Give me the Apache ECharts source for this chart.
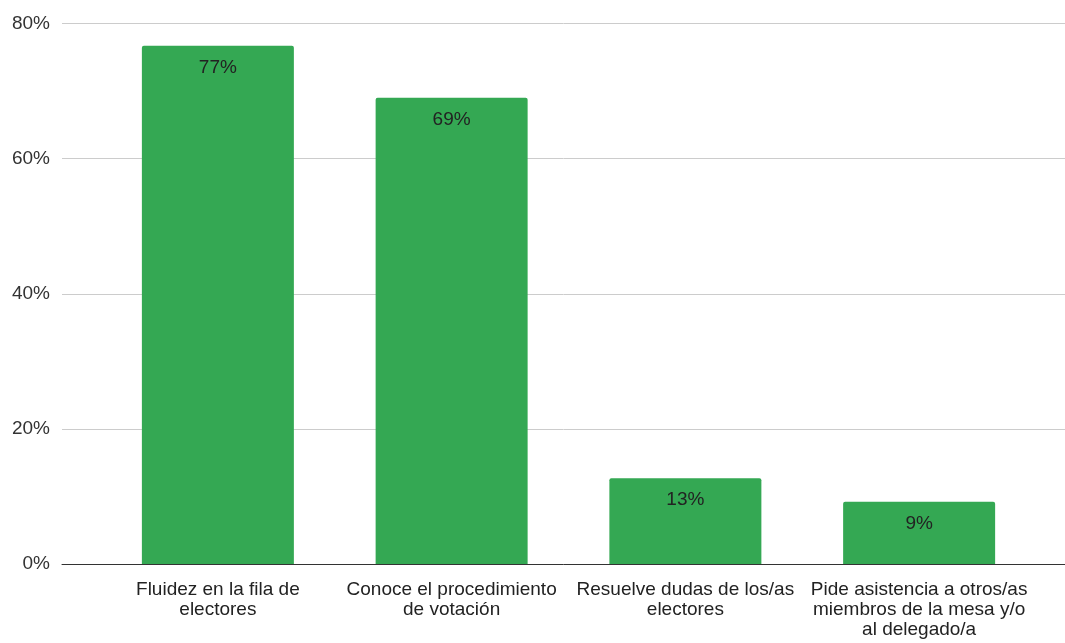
<!DOCTYPE html>
<html>
<head>
<meta charset="utf-8">
<script src="https://cdn.jsdelivr.net/npm/echarts@6/dist/echarts.min.js"></script>
<style>
html,body{margin:0;padding:0;background:#fff;}
#chart{width:1065px;height:643px;}
</style>
</head>
<body>
<div id="chart"></div>
<script>
const categories = [
  'Fluidez en la fila de\nelectores',
  'Conoce el procedimiento\nde votación',
  'Resuelve dudas de los/as\nelectores',
  'Pide asistencia a otros/as\nmiembros de la mesa y/o\nal delegado/a'
];
const values = [76.7, 69.0, 12.7, 9.2];
const yTicks = { min: 0, max: 80, interval: 20 };

const FONT = '"Liberation Sans", Arial, sans-serif';
const chart = echarts.init(document.getElementById('chart'));
chart.setOption({
  animation: false,
  textStyle: { fontFamily: FONT },
  grid: [
    { left: 62, right: 0, top: 23.5, bottom: 79 },
    { left: 101, right: 29, top: 23.5, bottom: 79 }
  ],
  xAxis: [
    { gridIndex: 0, type: 'value', min: 0, max: 1,
      axisLine: { show: true, lineStyle: { color: '#333', width: 1 } },
      axisTick: { show: false }, axisLabel: { show: false }, splitLine: { show: false } },
    { gridIndex: 1, type: 'category', data: categories,
      axisLine: { show: false }, axisTick: { show: false },
      axisLabel: { interval: 0, fontSize: 19, lineHeight: 20, color: '#222', margin: 16, fontFamily: FONT } }
  ],
  yAxis: [
    { gridIndex: 0, type: 'value', min: yTicks.min, max: yTicks.max, interval: yTicks.interval,
      axisLine: { show: false }, axisTick: { show: false },
      axisLabel: { formatter: '{value}%', fontSize: 19, color: '#333', margin: 12, fontFamily: FONT,
        padding: [2, 0, 0, 0] },
      splitLine: { lineStyle: { color: '#cccccc', width: 1 } } },
    { gridIndex: 1, type: 'value', min: yTicks.min, max: yTicks.max, interval: yTicks.interval, show: false,
      splitLine: { show: false } }
  ],
  series: [{
    type: 'bar', xAxisIndex: 1, yAxisIndex: 1, data: values, barWidth: 152,
    itemStyle: { color: '#34a853', borderRadius: [2, 2, 0, 0] },
    label: { show: true, position: 'insideTop', distance: 12, fontSize: 19, color: '#222', fontFamily: FONT,
      formatter: p => Math.round(p.value) + '%' }
  }]
});
</script>
</body>
</html>
